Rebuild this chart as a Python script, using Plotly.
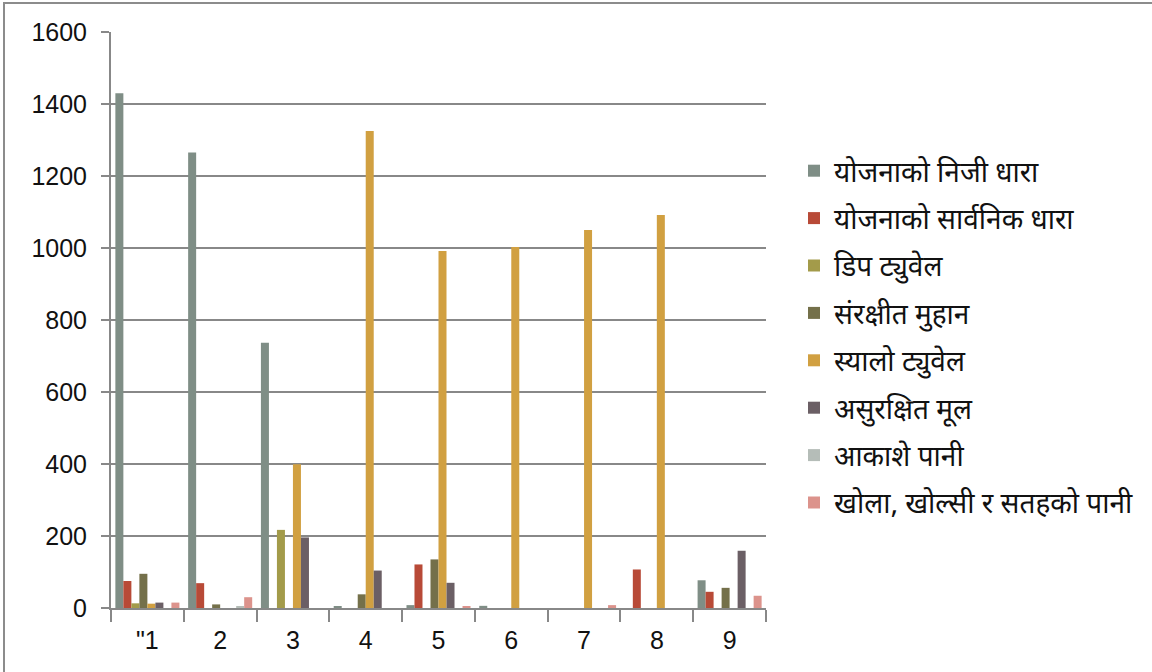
import plotly.graph_objects as go

categories = ['"1', '2', '3', '4', '5', '6', '7', '8', '9']

series_names = [
    "योजनाको निजी धारा",
    "योजनाको सार्वनिक धारा",
    "डिप ट्युवेल",
    "संरक्षीत मुहान",
    "स्यालो ट्युवेल",
    "असुरक्षित मूल",
    "आकाशे पानी",
    "खोला, खोल्सी र सतहको पानी",
]

nizi_dhara = [1430, 1265, 737, 3, 8, 6, 0, 0, 77]
sarvanik_dhara = [75, 69, 0, 0, 121, 0, 0, 107, 45]
deep_tubewell = [13, 0, 217, 0, 0, 0, 0, 0, 0]
sanrakshit_muhan = [95, 10, 0, 38, 135, 0, 0, 0, 56]
shallow_tubewell = [12, 0, 399, 1325, 992, 1003, 1050, 1092, 0]
asurakshit_mool = [15, 0, 196, 104, 70, 0, 0, 0, 159]
akashe_pani = [0, 3, 0, 0, 0, 0, 0, 0, 0]
khola_pani = [15, 30, 0, 0, 5, 0, 8, 0, 34]

series_values = [nizi_dhara, sarvanik_dhara, deep_tubewell, sanrakshit_muhan,
                 shallow_tubewell, asurakshit_mool, akashe_pani, khola_pani]

colors = ["#7f8e86", "#b84a37", "#a39b4a", "#74704a",
          "#d1a041", "#6b5f65", "#b5bdb8", "#dc938c"]

y_ticks = [0, 200, 400, 600, 800, 1000, 1200, 1400, 1600]

fig = go.Figure()
for i, (name, vals) in enumerate(zip(series_names, series_values)):
    fig.add_trace(go.Bar(
        x=categories, y=vals, name=name,
        marker=dict(color=colors[i], line=dict(width=0)),
        legendgroup=f"g{i}",
    ))

W, H = 1152, 672
L, R, T, B = 111, 1152 - 766, 32, 672 - 608
pw, ph = W - L - R, H - T - B

def px_to_paper_x(px):
    return (px - L) / pw

def px_to_paper_y(py):
    return (H - B - py) / ph

grid_col = "#888888"
tick_font = dict(family="Liberation Sans, Arial, sans-serif", size=25, color="#111111")

fig.update_layout(
    width=W, height=H,
    margin=dict(l=L, r=R, t=T, b=B, autoexpand=False),
    paper_bgcolor="white", plot_bgcolor="white",
    barmode="group", bargap=0.12, bargroupgap=0,
    font=dict(family="Noto Sans Devanagari, Noto Sans, sans-serif", color="#111111"),
    legend=dict(
        x=px_to_paper_x(794), y=px_to_paper_y(146), xanchor="left", yanchor="top",
        font=dict(size=28, color="#111111"),
        tracegroupgap=8, itemsizing="constant",
        bgcolor="rgba(0,0,0,0)",
    ),
    showlegend=True,
)

fig.update_xaxes(
    type="category",
    showline=True, linecolor=grid_col, linewidth=2,
    ticks="outside", tickson="boundaries", ticklen=12, tickwidth=2, tickcolor=grid_col,
    tickfont=tick_font, showgrid=False, ticklabelstandoff=9,
)
fig.update_yaxes(
    range=[0, 1600], tickvals=y_ticks, ticktext=[str(v) for v in y_ticks],
    showline=True, linecolor=grid_col, linewidth=2,
    ticks="outside", ticklen=8, tickwidth=2, tickcolor=grid_col,
    showgrid=True, gridcolor=grid_col, gridwidth=2,
    tickfont=tick_font, zeroline=False, ticklabelstandoff=9,
)

# outer chart frame (left and top edges visible)
fig.add_shape(type="line", xref="paper", yref="paper",
              x0=px_to_paper_x(4), x1=px_to_paper_x(4),
              y0=px_to_paper_y(2), y1=px_to_paper_y(700),
              line=dict(color="#8c8c8c", width=2))
fig.add_shape(type="line", xref="paper", yref="paper",
              x0=px_to_paper_x(4), x1=px_to_paper_x(1200),
              y0=px_to_paper_y(3), y1=px_to_paper_y(3),
              line=dict(color="#8c8c8c", width=2))

fig.write_html("out.html", config={"displayModeBar": False},
               post_script="document.body.style.margin='0px';")
